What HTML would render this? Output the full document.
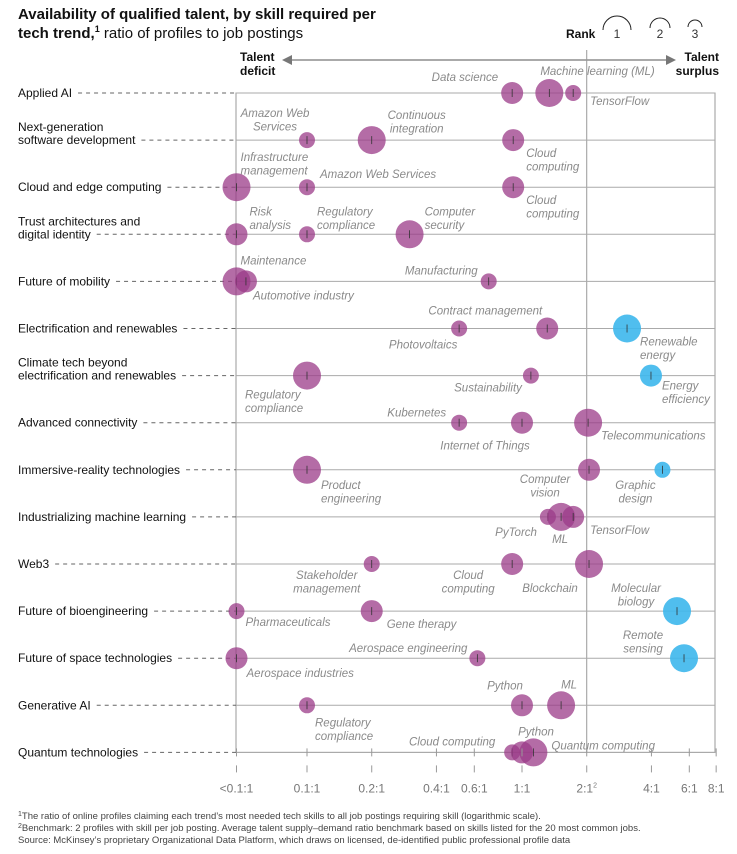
<!DOCTYPE html>
<html><head><meta charset="utf-8"><style>
body{margin:0;background:#fff;width:737px;height:854px;overflow:hidden;font-family:"Liberation Sans",sans-serif}
svg{display:block}
.rl{font-size:12px;fill:#111}
.bl{font-size:11.5px;fill:#8a8a8a;font-style:italic}
.tk{font-size:12px;fill:#777}
.fn{font-size:9.5px;fill:#444}
</style></head><body>
<svg id="chart" width="737" height="854">
<text x="18" y="19" font-size="15" font-weight="bold" fill="#111">Availability of qualified talent, by skill required per</text>
<text x="18" y="38" font-size="15" fill="#111"><tspan font-weight="bold">tech trend,</tspan><tspan font-size="9" dy="-6" font-weight="bold">1</tspan><tspan dy="6"> ratio of profiles to job postings</tspan></text>
<g>
<text x="566" y="38" font-size="12" font-weight="bold" fill="#111">Rank</text>
<path d="M603,30 A14,14 0 0 1 631,30" fill="none" stroke="#222" stroke-width="1"/>
<text x="617" y="38" font-size="12" fill="#333" text-anchor="middle">1</text>
<path d="M650,28 A10,10 0 0 1 670,28" fill="none" stroke="#222" stroke-width="1"/>
<text x="660" y="38" font-size="12" fill="#333" text-anchor="middle">2</text>
<path d="M688,27 A7,7 0 0 1 702,27" fill="none" stroke="#222" stroke-width="1"/>
<text x="695" y="38" font-size="12" fill="#333" text-anchor="middle">3</text>
</g>
<g>
<line x1="290" y1="60" x2="668" y2="60" stroke="#777" stroke-width="1.2"/>
<polygon points="282,60 292,55 292,65" fill="#777"/>
<polygon points="676,60 666,55 666,65" fill="#777"/>
<text x="240" y="61" font-size="12" font-weight="bold" fill="#111">Talent</text>
<text x="240" y="75" font-size="12" font-weight="bold" fill="#111">deficit</text>
<text x="719" y="61" font-size="12" font-weight="bold" fill="#111" text-anchor="end">Talent</text>
<text x="719" y="75" font-size="12" font-weight="bold" fill="#111" text-anchor="end">surplus</text>
</g>
<g id="grid"></g><g id="bubbles"></g><g id="labels"></g><g id="axis"></g>
<g>
<text class="fn" x="18" y="819"><tspan font-size="7" dy="-3">1</tspan><tspan dy="3">The ratio of online profiles claiming each trend’s most needed tech skills to all job postings requiring skill (logarithmic scale).</tspan></text>
<text class="fn" x="18" y="831"><tspan font-size="7" dy="-3">2</tspan><tspan dy="3">Benchmark: 2 profiles with skill per job posting. Average talent supply–demand ratio benchmark based on skills listed for the 20 most common jobs.</tspan></text>
<text class="fn" x="18" y="843">Source: McKinsey’s proprietary Organizational Data Platform, which draws on licensed, de-identified public professional profile data</text>
</g>
</svg>
<script>
const trends=[["Applied AI"],["Next-generation","software development"],["Cloud and edge computing"],["Trust architectures and","digital identity"],["Future of mobility"],["Electrification and renewables"],["Climate tech beyond","electrification and renewables"],["Advanced connectivity"],["Immersive-reality technologies"],["Industrializing machine learning"],["Web3"],["Future of bioengineering"],["Future of space technologies"],["Generative AI"],["Quantum technologies"]];
const tickValues=[0.047,0.1,0.2,0.4,0.6,1,2,4,6,8];
const tickLabels=["<0.1:1","0.1:1","0.2:1","0.4:1","0.6:1","1:1","2:1","4:1","6:1","8:1"];
const skillTrend=[0,0,0,1,1,1,2,2,2,3,3,3,4,4,4,5,5,5,6,6,6,7,7,7,8,8,8,9,9,9,10,10,10,11,11,11,12,12,12,13,13,13,14,14,14];
const skillNames=["Data science","Machine learning (ML)","TensorFlow","Amazon Web|Services","Continuous|integration","Cloud|computing","Infrastructure|management","Amazon Web Services","Cloud|computing","Risk|analysis","Regulatory|compliance","Computer|security","Maintenance","Automotive industry","Manufacturing","Photovoltaics","Contract management","Renewable|energy","Regulatory|compliance","Sustainability","Energy|efficiency","Kubernetes","Internet of Things","Telecommunications","Product|engineering","Computer|vision","Graphic|design","PyTorch","ML","TensorFlow","Stakeholder|management","Cloud|computing","Blockchain","Pharmaceuticals","Gene therapy","Molecular|biology","Aerospace industries","Aerospace engineering","Remote|sensing","Regulatory|compliance","Python","ML","Cloud computing","Python","Quantum computing"];
const skillRatios=[0.90,1.34,1.73,0.1,0.2,0.91,0.047,0.1,0.91,0.047,0.1,0.30,0.047,0.052,0.70,0.51,1.31,3.08,0.10,1.10,3.98,0.51,1.0,2.03,0.10,2.05,4.5,1.32,1.52,1.73,0.2,0.90,2.05,0.047,0.2,5.26,0.047,0.62,5.67,0.1,1.0,1.52,0.90,1.0,1.13];
const skillRanks=[2,1,3,3,1,2,1,3,2,2,3,1,1,2,3,3,2,1,1,3,2,3,2,1,1,2,3,3,1,2,3,2,1,3,2,1,2,3,1,3,2,1,3,2,1];
const skillSurplus=[0,0,0,0,0,0,0,0,0,0,0,0,0,0,0,0,0,1,0,0,1,0,0,0,0,0,1,0,0,0,0,0,0,0,0,1,0,0,1,0,0,0,0,0,0];
const lab=[[-14,-16,"end"],[-9,-22,"start"],[17,8,"start"],[-32,-27,"middle"],[45,-25,"middle"],[13,13,"start"],[4,-30,"start"],[13,-13,"start"],[13,13,"start"],[13,-23,"start"],[10,-23,"start"],[15,-23,"start"],[4,-21,"start"],[7,14,"start"],[-11,-11,"end"],[-36,16,"middle"],[-5,-18,"end"],[13,13,"start"],[-62,19,"start"],[-9,12,"end"],[11,10,"start"],[-13,-10,"end"],[-37,23,"middle"],[13,13,"start"],[14,15,"start"],[-44,9,"middle"],[-27,15,"middle"],[-11,15,"end"],[-1,22,"middle"],[17,13,"start"],[-45,11,"middle"],[-44,11,"middle"],[-39,24,"middle"],[9,11,"start"],[15,13,"start"],[-41,-23,"middle"],[10,15,"start"],[-10,-10,"end"],[-41,-23,"middle"],[8,17,"start"],[-17,-20,"middle"],[8,-21,"middle"],[-60,-11,"middle"],[14,-21,"middle"],[18,-7,"start"]];
const rankRadius={1:14,2:11,3:8};
const X0=236,X1=715,Y0=93,ROW=47.1;
const xs=v=>522+215*Math.log10(v);
const ys=i=>Y0+i*ROW;
const NS="http://www.w3.org/2000/svg";
function mk(t,a,p){const e=document.createElementNS(NS,t);for(const k in a)e.setAttribute(k,a[k]);p.appendChild(e);return e;}
const grid=document.getElementById('grid'),bub=document.getElementById('bubbles'),labs=document.getElementById('labels'),axis=document.getElementById('axis');
const yB=ys(trends.length-1);
const box=mk('rect',{x:X0,y:Y0,width:X1-X0,height:yB-Y0,fill:'none',stroke:'#999','stroke-width':1},grid);


const bench=mk('line',{x1:xs(2),x2:xs(2),y1:50,y2:yB,stroke:'#999','stroke-width':1},grid);


trends.forEach((t,i)=>{
  const y=ys(i);
  const g=mk('g',{},grid);
  
  
  mk('line',{x1:X0,x2:X1,y1:y,y2:y,stroke:'#aaa','stroke-width':1},g);
  const tx=mk('text',{x:18,y:0,class:'rl'},g);
  const n=t.length;
  let last=null;
  t.forEach((s,k)=>{const sp=mk('tspan',{x:18,y:y+4-(n-1-k)*13},tx);sp.textContent=s;last=sp;});
  let w=last.getComputedTextLength?last.getComputedTextLength():t[n-1].length*6;
  mk('line',{x1:18+w+6,x2:X0,y1:y,y2:y,stroke:'#666','stroke-width':1,'stroke-dasharray':'4,4'},g);
});
skillNames.forEach((nm,j)=>{
  const cx=xs(skillRatios[j]),cy=ys(skillTrend[j]);
  const c=mk('circle',{cx:cx,cy:cy,r:rankRadius[skillRanks[j]],fill:skillSurplus[j]?'#3db7ec':'#9b3b88','fill-opacity':skillSurplus[j]?0.9:0.75},bub);
  
  
  mk('line',{x1:cx,x2:cx,y1:cy-4,y2:cy+4,stroke:'#333','stroke-width':0.8},bub);
  const L=lab[j];const parts=nm.split('|');
  const t=mk('text',{class:'bl','text-anchor':L[2]},labs);
  
  
  parts.forEach((p,k)=>{const sp=mk('tspan',{x:cx+L[0],y:cy+L[1]+4+k*13.5},t);sp.textContent=p;});
});
tickValues.forEach((v,i)=>{
  const x=xs(v);
  const g=mk('g',{},axis);
  
  
  mk('line',{x1:x,x2:x,y1:yB-4,y2:yB+4,stroke:'#999'},g);
  mk('line',{x1:x,x2:x,y1:yB+13,y2:yB+20,stroke:'#999'},g);
  const t=mk('text',{x:x,y:yB+40,class:'tk','text-anchor':'middle'},g);
  t.textContent=tickLabels[i];
  if(tickLabels[i]==="2:1"){const s=mk('tspan',{'font-size':7,dy:-5},t);s.textContent='2';}
});
</script>
</body></html>
